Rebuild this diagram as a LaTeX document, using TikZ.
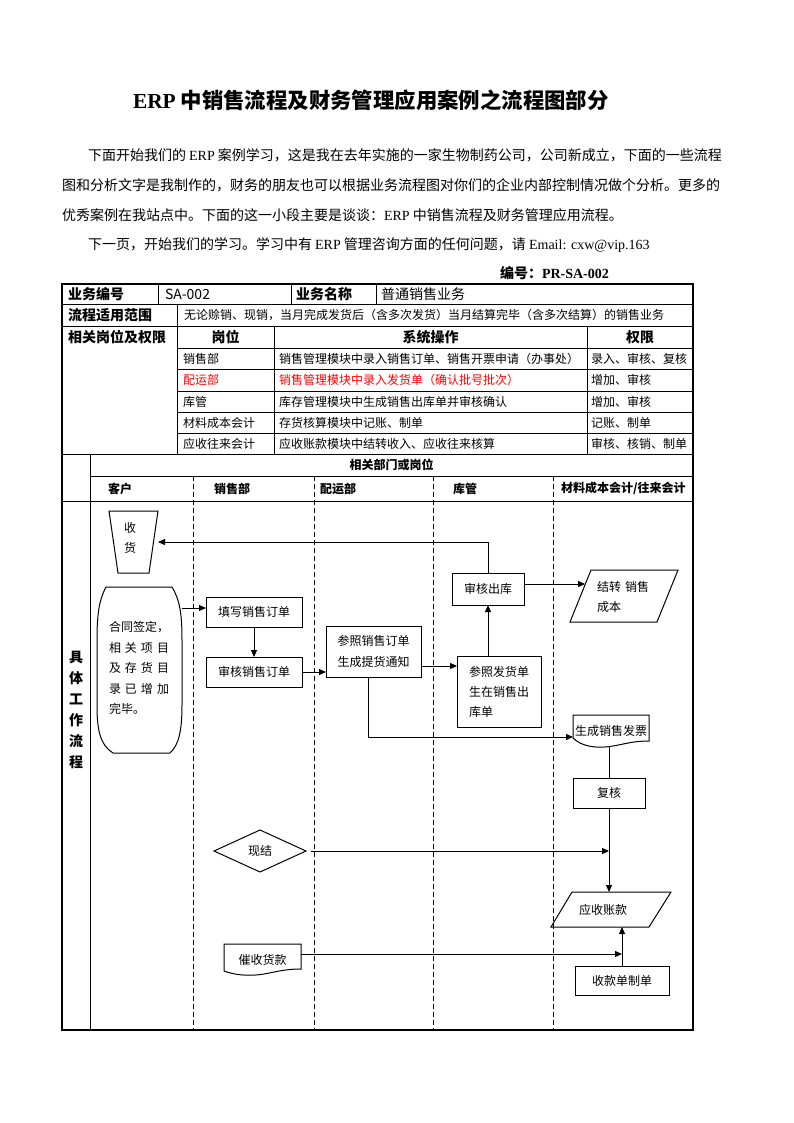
\documentclass[tikz,border=0pt]{standalone}
\usepackage{fontspec}
\setmainfont{Noto Sans CJK SC}
\newfontfamily\lat{Liberation Serif}
\usetikzlibrary{arrows.meta,calc}
\begin{document}
\begin{tikzpicture}[x=1pt,y=-1pt,
  every node/.style={inner sep=0pt, outer sep=0pt},
  f12/.style={font=\fontsize{12}{14}\selectfont},
  f14/.style={font=\fontsize{14}{16}\selectfont},
  b12/.style={font=\fontsize{12}{14}\selectfont\bfseries},
  b14/.style={font=\fontsize{14}{16}\selectfont\bfseries},
  lt/.style={anchor=west},
  pbox/.style={draw, line width=1pt, anchor=north west, f12, align=center},
  ghost/.style={anchor=north west, f12, align=center},
  ln/.style={line width=1pt},
  arr/.style={ln, -{Triangle[length=7pt,width=6pt]}},
  grid/.style={line width=0.8pt},
  lane/.style={line width=0.8pt, dash pattern=on 5pt off 3pt},
]
\useasboundingbox (0,0) rectangle (794,1123);
\fill[white] (0,0) rectangle (794,1123);

% title and text
\node[font=\fontsize{21.4}{24}\selectfont\bfseries, lt] (title) at (133,100) {{\lat ERP} 中销售流程及财务管理应用案例之流程图部分};
\node[f14, lt] (p1) at (88,155) {下面开始我们的 {\lat ERP} 案例学习，这是我在去年实施的一家生物制药公司，公司新成立，下面的一些流程};
\node[f14, lt] (p2) at (62,185) {图和分析文字是我制作的，财务的朋友也可以根据业务流程图对你们的企业内部控制情况做个分析。更多的};
\node[f14, lt] (p3) at (62,215) {优秀案例在我站点中。下面的这一小段主要是谈谈：{\lat ERP} 中销售流程及财务管理应用流程。};
\node[f14, lt] (p4) at (88,245) {下一页，开始我们的学习。学习中有 {\lat ERP} 管理咨询方面的任何问题，请 {\lat Email: cxw@vip.163}};
\node[b14, lt] (code) at (500,273) {编号：{\lat PR-SA-002}};

% table grid
\draw[line width=1.3pt] (62,284) rectangle (693,1030);
\draw[grid] (62,304) -- (693,304);
\draw[grid] (62,326) -- (693,326);
\foreach \yy in {348,369,391,412,433} \draw[grid] (177,\yy) -- (693,\yy);
\draw[grid] (62,454) -- (693,454);
\draw[grid] (90,476) -- (693,476);
\draw[grid] (62,501) -- (693,501);
\draw[grid] (158,284) -- (158,304);
\draw[grid] (291,284) -- (291,304);
\draw[grid] (376,284) -- (376,304);
\draw[grid] (177,304) -- (177,454);
\draw[grid] (274,326) -- (274,454);
\draw[grid] (587,326) -- (587,454);
\draw[grid] (90,454) -- (90,1030);
\foreach \xx in {193,314,433,553} \draw[lane] (\xx,476) -- (\xx,1030);

% table text
\node[b14,lt] (h1) at (68,294) {业务编号};
\node[f14,lt] (h1v) at (165,294) {SA-002};
\node[b14,lt] (h2) at (296,294) {业务名称};
\node[f14,lt] (h2v) at (381,294) {普通销售业务};
\node[b14,lt] (h3) at (68,315) {流程适用范围};
\node[f12,lt] (h3v) at (184,315) {无论赊销、现销，当月完成发货后（含多次发货）当月结算完毕（含多次结算）的销售业务};
\node[b14,lt] (h4) at (68,337) {相关岗位及权限};
\node[b14] (c1) at (225.5,337) {岗位};
\node[b14] (c2) at (430.5,337) {系统操作};
\node[b14] (c3) at (640,337) {权限};

\node[f12,lt] (r1a) at (183,358.5) {销售部};
\node[f12,lt] (r1b) at (279,358.5) {销售管理模块中录入销售订单、销售开票申请（办事处）};
\node[f12,lt] (r1c) at (591,358.5) {录入、审核、复核};
\node[f12,lt,text=red] (r2a) at (183,380) {配运部};
\node[f12,lt,text=red] (r2b) at (279,380) {销售管理模块中录入发货单（确认批号批次）};
\node[f12,lt] (r2c) at (591,380) {增加、审核};
\node[f12,lt] (r3a) at (183,401.5) {库管};
\node[f12,lt] (r3b) at (279,401.5) {库存管理模块中生成销售出库单并审核确认};
\node[f12,lt] (r3c) at (591,401.5) {增加、审核};
\node[f12,lt] (r4a) at (183,422.5) {材料成本会计};
\node[f12,lt] (r4b) at (279,422.5) {存货核算模块中记账、制单};
\node[f12,lt] (r4c) at (591,422.5) {记账、制单};
\node[f12,lt] (r5a) at (183,443.5) {应收往来会计};
\node[f12,lt] (r5b) at (279,443.5) {应收账款模块中结转收入、应收往来核算};
\node[f12,lt] (r5c) at (591,443.5) {审核、核销、制单};

\node[b12] (deptHdr) at (391.5,465) {相关部门或岗位};
\node[b12,lt] (l1) at (108,488.5) {客户};
\node[b12,lt] (l2) at (214,488.5) {销售部};
\node[b12,lt] (l3) at (320,488.5) {配运部};
\node[b12,lt] (l4) at (453,488.5) {库管};
\node[b12,lt] (l5) at (561,488.5) {材料成本会计/往来会计};
\node[font=\fontsize{14}{21}\selectfont\bfseries, align=center] (vt) at (76,710) {具\\体\\工\\作\\流\\程};

% flow shapes
\node[ghost, minimum width=49, minimum height=62] (sh) at (109,511) {};
\draw[ln] (sh.north west) -- (sh.north east) -- ([xshift=-9pt]sh.south east) -- ([xshift=9pt]sh.south west) -- cycle;
\node[font=\fontsize{12}{20}\selectfont, align=center] (shT) at (130,538) {收\\货};

\node[ghost, minimum width=85, minimum height=166] (htqd) at (97,587) {};
\begin{scope}[shift={(htqd.north west)}]
\draw[ln] (9,0) -- (75,0) .. controls (83,13) and (85,28) .. (85,53) -- (85,118) .. controls (85,143) and (82,158) .. (73,166) -- (16,166) .. controls (3,158) and (0,143) .. (0,118) -- (0,53) .. controls (0,28) and (2,13) .. (9,0) -- cycle;
\end{scope}
\node[font=\fontsize{12}{20.5}\selectfont, align=left, lt] (htqdT) at (109,668) {合同签定，\\\makebox[60pt][s]{相\hfill 关\hfill 项\hfill 目}\\\makebox[60pt][s]{及\hfill 存\hfill 货\hfill 目}\\\makebox[60pt][s]{录\hfill 已\hfill 增\hfill 加}\\完毕。};

\node[pbox, minimum width=96, minimum height=30] (txdd) at (206,597) {填写销售订单};
\node[pbox, minimum width=96, minimum height=30] (shdd) at (206,657) {审核销售订单};
\node[pbox, minimum width=95, minimum height=51, font=\fontsize{12}{21}\selectfont] (cz) at (326,626) {参照销售订单\\生成提货通知};
\node[pbox, minimum width=84, minimum height=71, align=left, font=\fontsize{12}{20}\selectfont] (fhd) at (457,656) {参照发货单\\生在销售出\\库单};
\node[pbox, minimum width=72, minimum height=32] (shck) at (452,573) {审核出库};

\node[ghost, minimum width=108, minimum height=52] (jz) at (570,570) {};
\draw[ln] ([xshift=21pt]jz.north west) -- (jz.north east) -- ([xshift=-21pt]jz.south east) -- (jz.south west) -- cycle;
\node[font=\fontsize{12}{20}\selectfont, align=left, lt] (jzT) at (597,597) {结转\hspace{4pt}销售\\成本};

\node[ghost, minimum width=76, minimum height=32] (sxfp) at (573,715) {生成销售发票};
\begin{scope}[shift={(sxfp.north west)}]
\draw[ln] (0,0) -- (76,0) -- (76,26) .. controls (60,26) and (52,29) .. (40,31) .. controls (22,34) and (8,31) .. (0,23) -- cycle;
\end{scope}

\node[pbox, minimum width=72, minimum height=30] (fh) at (573,778) {复核};

\node[ghost, minimum width=92, minimum height=42] (xj) at (214,830) {现结};
\draw[ln] (xj.west) -- (xj.north) -- (xj.east) -- (xj.south) -- cycle;

\node[ghost, minimum width=120, minimum height=35] (yszk) at (551,892) {};
\draw[ln] ([xshift=21pt]yszk.north west) -- (yszk.north east) -- ([xshift=-22pt]yszk.south east) -- (yszk.south west) -- cycle;
\node[f12] (yszkT) at (603,909.5) {应收账款};

\node[ghost, minimum width=77, minimum height=31] (cshk) at (224,944) {催收货款};
\begin{scope}[shift={(cshk.north west)}]
\draw[ln] (0,0) -- (77,0) -- (77,25) .. controls (60,25) and (52,28) .. (40,30) .. controls (22,33) and (8,30) .. (0,27) -- cycle;
\end{scope}

\node[pbox, minimum width=94, minimum height=29] (sk) at (575,966) {收款单制单};

% connectors
\draw[arr] (shck.north) |- (sh.east);
\coordinate (a1) at ([yshift=4pt]txdd.west);
\draw[arr] (a1 -| htqd.east) -- (a1);
\draw[arr] (txdd.south) -- (shdd.north);
\draw[arr] (shdd.east) -- (shdd.east -| cz.west);
\coordinate (a2) at ([yshift=-14.5pt]cz.east);
\draw[arr] (a2) -- (a2 -| fhd.west);
\draw[arr] (fhd.north -| shck.south) -- (shck.south);
\coordinate (a3) at ([yshift=5pt]shck.east);
\coordinate (jzin) at (585,584);
\draw[arr] (a3) -- (jzin);
\coordinate (a4) at ([yshift=-6pt]sxfp.west);
\coordinate (a5) at ([xshift=-5.5pt]cz.south);
\draw[arr] (a5) |- (a4);
\draw[ln] (fh.north |- sxfp.south) -- (fh.north);
\draw[arr] (fh.south) -- (fh.south |- yszk.north);
\draw[arr] ([xshift=5pt]xj.east) -- (xj.east -| fh.south);
\coordinate (a6) at ([yshift=5.5pt]cshk.east);
\draw[arr] (a6) -- (a6 -| sk.north);
\draw[arr] (sk.north) -- (sk.north |- yszk.south);
\end{tikzpicture}
\end{document}
